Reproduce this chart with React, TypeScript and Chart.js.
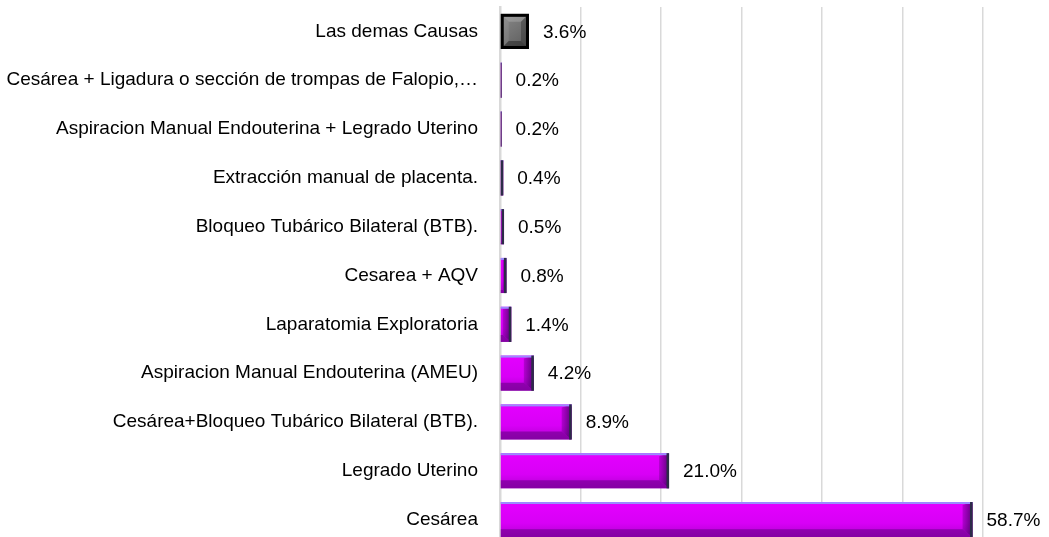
import React, { useEffect, useRef } from "react";
import { Chart, registerables } from "chart.js";

Chart.register(...registerables);

const categories: string[] = [
  "Las demas Causas",
  "Cesárea + Ligadura o sección de trompas de Falopio,…",
  "Aspiracion Manual Endouterina + Legrado Uterino",
  "Extracción manual de placenta.",
  "Bloqueo Tubárico Bilateral (BTB).",
  "Cesarea + AQV",
  "Laparatomia Exploratoria",
  "Aspiracion Manual Endouterina (AMEU)",
  "Cesárea+Bloqueo Tubárico Bilateral (BTB).",
  "Legrado Uterino",
  "Cesárea",
];

const percentages: number[] = [3.6, 0.2, 0.2, 0.4, 0.5, 0.8, 1.4, 4.2, 8.9, 21.0, 58.7];

const axisMax = 60;
const axisStep = 10;

const FONT = "'Liberation Sans', Arial, sans-serif";
const FONT_SIZE = 19;

const bevelPlugin = {
  id: "bevelBars",
  afterDatasetsDraw(chart: any) {
    const ctx: CanvasRenderingContext2D = chart.ctx;
    const meta = chart.getDatasetMeta(0);
    meta.data.forEach((bar: any, i: number) => {
      const p = bar.getProps(["x", "y", "base", "height"], true);
      const left = Math.min(p.base, p.x);
      const right = Math.max(p.base, p.x);
      const top = p.y - p.height / 2;
      const bottom = p.y + p.height / 2;
      const w = right - left;
      const h = bottom - top;
      ctx.save();
      if (i === 0) {
        const g = ctx.createLinearGradient(left, top, right, bottom);
        g.addColorStop(0, "#8a8a8a");
        g.addColorStop(1, "#5a5a5a");
        ctx.fillStyle = g;
        ctx.fillRect(left, top, w, h);
        const b = Math.min(8, w / 2, h / 2);
        ctx.fillStyle = "rgba(255,255,255,0.18)";
        ctx.beginPath();
        ctx.moveTo(left, top); ctx.lineTo(right, top); ctx.lineTo(right - b, top + b); ctx.lineTo(left + b, top + b); ctx.closePath(); ctx.fill();
        ctx.fillStyle = "rgba(255,255,255,0.08)";
        ctx.beginPath();
        ctx.moveTo(left, top); ctx.lineTo(left + b, top + b); ctx.lineTo(left + b, bottom - b); ctx.lineTo(left, bottom); ctx.closePath(); ctx.fill();
        ctx.fillStyle = "rgba(0,0,0,0.25)";
        ctx.beginPath();
        ctx.moveTo(right, top); ctx.lineTo(right, bottom); ctx.lineTo(right - b, bottom - b); ctx.lineTo(right - b, top + b); ctx.closePath(); ctx.fill();
        ctx.fillStyle = "rgba(0,0,0,0.35)";
        ctx.beginPath();
        ctx.moveTo(left, bottom); ctx.lineTo(right, bottom); ctx.lineTo(right - b, bottom - b); ctx.lineTo(left + b, bottom - b); ctx.closePath(); ctx.fill();
        ctx.lineWidth = 3;
        ctx.strokeStyle = "#000000";
        ctx.strokeRect(left + 1.5, top + 1.5, w - 3, h - 3);
      } else {
        const b = Math.min(10, Math.max(0, w - 2), h / 2);
        const g = ctx.createLinearGradient(0, top, 0, bottom);
        g.addColorStop(0, "#e400ff");
        g.addColorStop(0.6, "#d800f6");
        g.addColorStop(1, "#b000d0");
        ctx.fillStyle = g;
        ctx.fillRect(left, top, w, h);
        const rg = ctx.createLinearGradient(right - b, 0, right, 0);
        rg.addColorStop(0, "rgba(60,0,90,0.25)");
        rg.addColorStop(1, "rgba(40,0,70,0.7)");
        ctx.fillStyle = rg;
        ctx.beginPath();
        ctx.moveTo(right, top); ctx.lineTo(right, bottom); ctx.lineTo(right - b, bottom - b * 0.8); ctx.lineTo(right - b, top + b * 0.3); ctx.closePath(); ctx.fill();
        ctx.fillStyle = "rgba(90,0,120,0.5)";
        ctx.beginPath();
        ctx.moveTo(left, bottom); ctx.lineTo(right, bottom); ctx.lineTo(right - b, bottom - b * 0.8); ctx.lineTo(left, bottom - b * 0.8); ctx.closePath(); ctx.fill();
        ctx.fillStyle = "#9a8cff";
        ctx.fillRect(left, top, w, 2);
        ctx.fillStyle = "#2c2c48";
        ctx.fillRect(right - Math.min(2.5, w), top, Math.min(2.5, w), h);
      }
      ctx.restore();

      ctx.save();
      ctx.fillStyle = "#000000";
      ctx.font = `${FONT_SIZE}px ${FONT}`;
      ctx.textBaseline = "middle";
      ctx.textAlign = "left";
      ctx.fillText(percentages[i].toFixed(1) + "%", right + 14, p.y + 1);
      ctx.restore();
    });
  },
};

export default function App() {
  const canvasRef = useRef<HTMLCanvasElement | null>(null);

  useEffect(() => {
    if (!canvasRef.current) return;
    const chart = new Chart(canvasRef.current, {
      type: "bar",
      data: {
        labels: categories,
        datasets: [
          {
            data: percentages,
            backgroundColor: "rgba(0,0,0,0)",
            borderWidth: 0,
            barPercentage: 0.72,
            categoryPercentage: 1,
          },
        ],
      },
      options: {
        indexAxis: "y",
        responsive: false,
        animation: false,
        layout: { padding: { top: 7, right: 66, bottom: 1, left: 0 } },
        plugins: {
          legend: { display: false },
          tooltip: { enabled: false },
        },
        scales: {
          x: {
            min: 0,
            max: axisMax,
            ticks: { display: false, stepSize: axisStep },
            grid: { color: "#d9d9d9", lineWidth: 1.5, drawTicks: false },
            border: { display: false },
            afterFit: (scale: any) => {
              scale.height = 0;
              scale.paddingLeft = 0;
              scale.paddingRight = 0;
            },
          },
          y: {
            grid: { display: false, drawTicks: false },
            border: { display: true, color: "#d9d9d9", width: 2.5 },
            ticks: {
              color: "#000000",
              padding: 22,
              font: { family: FONT, size: FONT_SIZE },
            },
            afterFit: (scale: any) => {
              scale.width = 500;
              scale.paddingTop = 0;
              scale.paddingBottom = 0;
            },
          },
        },
      },
      plugins: [bevelPlugin],
    });
    return () => chart.destroy();
  }, []);

  return (
    <div
      style={{
        position: "fixed",
        left: 0,
        top: 0,
        width: 1049,
        height: 537,
        overflow: "hidden",
        background: "#ffffff",
      }}
    >
      <canvas ref={canvasRef} width={1049} height={545} style={{ display: "block" }} />
    </div>
  );
}
